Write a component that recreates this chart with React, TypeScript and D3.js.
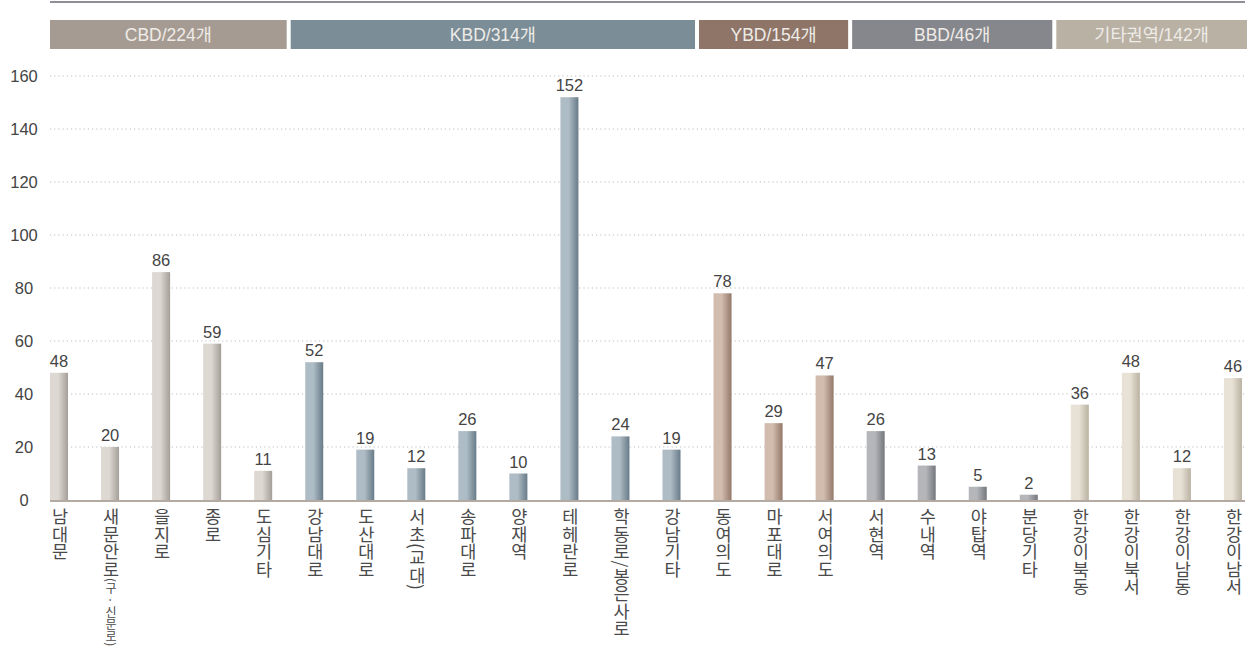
import React from "react";
import * as d3 from "d3";

const categories = [
  "남대문", "새문안로", "을지로", "종로", "도심기타",
  "강남대로", "도산대로", "서초(교대)", "송파대로", "양재역", "테헤란로", "학동로/봉은사로", "강남기타",
  "동여의도", "마포대로", "서여의도",
  "서현역", "수내역", "야탑역", "분당기타",
  "한강이북동", "한강이북서", "한강이남동", "한강이남서",
];
const labelSuffix: Record<string, string> = { "새문안로": "(구 · 신문로)" };
const values = [48, 20, 86, 59, 11, 52, 19, 12, 26, 10, 152, 24, 19, 78, 29, 47, 26, 13, 5, 2, 36, 48, 12, 46];
const groupOf = [0, 0, 0, 0, 0, 1, 1, 1, 1, 1, 1, 1, 1, 2, 2, 2, 3, 3, 3, 3, 4, 4, 4, 4];
const groupLabels = ["CBD/224개", "KBD/314개", "YBD/154개", "BBD/46개", "기타권역/142개"];
const yTicks = [0, 20, 40, 60, 80, 100, 120, 140, 160];

const headerColors = ["#a69b92", "#7b8d97", "#8e7568", "#85878c", "#b9b1a4"];
const barLight = ["#ddd8d2", "#aebcc5", "#d2bcae", "#b4b6ba", "#e8e2d6"];
const barDark = ["#a49e98", "#687b88", "#937868", "#74777c", "#bab2a2"];

const W = 1247, H = 671;
const left = 50, right = 1245;

export default function App() {
  const step = 51.04;
  const x = d3.scaleBand<string>()
    .domain(categories)
    .range([33.5, 33.5 + step * categories.length])
    .paddingInner(1 - 18 / step)
    .paddingOuter((1 - 18 / step) / 2);
  const y = d3.scaleLinear().domain([0, 160]).range([500, 76]);
  const bw = x.bandwidth();
  const st = x.step();
  const r0 = x.range()[0];

  const spans = groupLabels.map((g, gi) => {
    const idx = groupOf.map((v, i) => (v === gi ? i : -1)).filter((i) => i >= 0);
    const a = idx[0], b = idx[idx.length - 1];
    let x0 = r0 + a * st + 2;
    let x1 = r0 + (b + 1) * st - 2;
    if (gi === 0) x0 = left;
    if (gi === groupLabels.length - 1) x1 = W;
    return { g, gi, x0, x1 };
  });

  return (
    <svg width={W} height={H} style={{ position: "absolute", left: 0, top: 0, background: "#fff" }}>
      <defs>
        {barLight.map((c, i) => (
          <linearGradient key={i} id={`bg${i}`} x1="0" x2="1" y1="0" y2="0">
            <stop offset="0" stopColor={c} />
            <stop offset="0.45" stopColor={c} />
            <stop offset="1" stopColor={barDark[i]} />
          </linearGradient>
        ))}
      </defs>
      <line x1={left} x2={right} y1={2} y2={2} stroke="#8f8f95" strokeWidth={2} />
      {spans.map((s) => (
        <g key={s.g}>
          <rect x={s.x0} y={20} width={s.x1 - s.x0} height={29} fill={headerColors[s.gi]} />
          <text x={(s.x0 + s.x1) / 2} y={40.5} textAnchor="middle" fill="#efece8"
            fontFamily="'Liberation Sans', 'Noto Sans CJK KR', sans-serif" fontSize={17.5}>{s.g}</text>
        </g>
      ))}
      {yTicks.map((t) => (
        <g key={t}>
          {t > 0 && (
            <line x1={left} x2={right} y1={y(t)} y2={y(t)} stroke="#bdbdbd" strokeWidth={1.2} strokeDasharray="1.2 3" />
          )}
          <text x={24} y={y(t) + 6} textAnchor="middle" fill="#444"
            fontFamily="'Liberation Sans', sans-serif" fontSize={16.5}>{t}</text>
        </g>
      ))}
      {categories.map((c, i) => {
        const v = values[i];
        const bx = x(c)!;
        return (
          <g key={c}>
            <rect x={bx} y={y(v)} width={bw} height={y(0) - y(v)} fill={`url(#bg${groupOf[i]})`} />
            <text x={bx + bw / 2} y={y(v) - 6} textAnchor="middle" fill="#444"
              fontFamily="'Liberation Sans', sans-serif" fontSize={16.5}>{v}</text>
            <text x={bx + bw / 2 + 1} y={508} fill="#4a4a4a"
              style={{ writingMode: "vertical-rl" as any }}
              fontFamily="'Noto Sans CJK KR', sans-serif" fontSize={17.5}>
              {c}
              {labelSuffix[c] && <tspan fontSize={12}>{labelSuffix[c]}</tspan>}
            </text>
          </g>
        );
      })}
      <line x1={left} x2={right} y1={y(0) + 1} y2={y(0) + 1} stroke="#b3aaa2" strokeWidth={2} />
    </svg>
  );
}
